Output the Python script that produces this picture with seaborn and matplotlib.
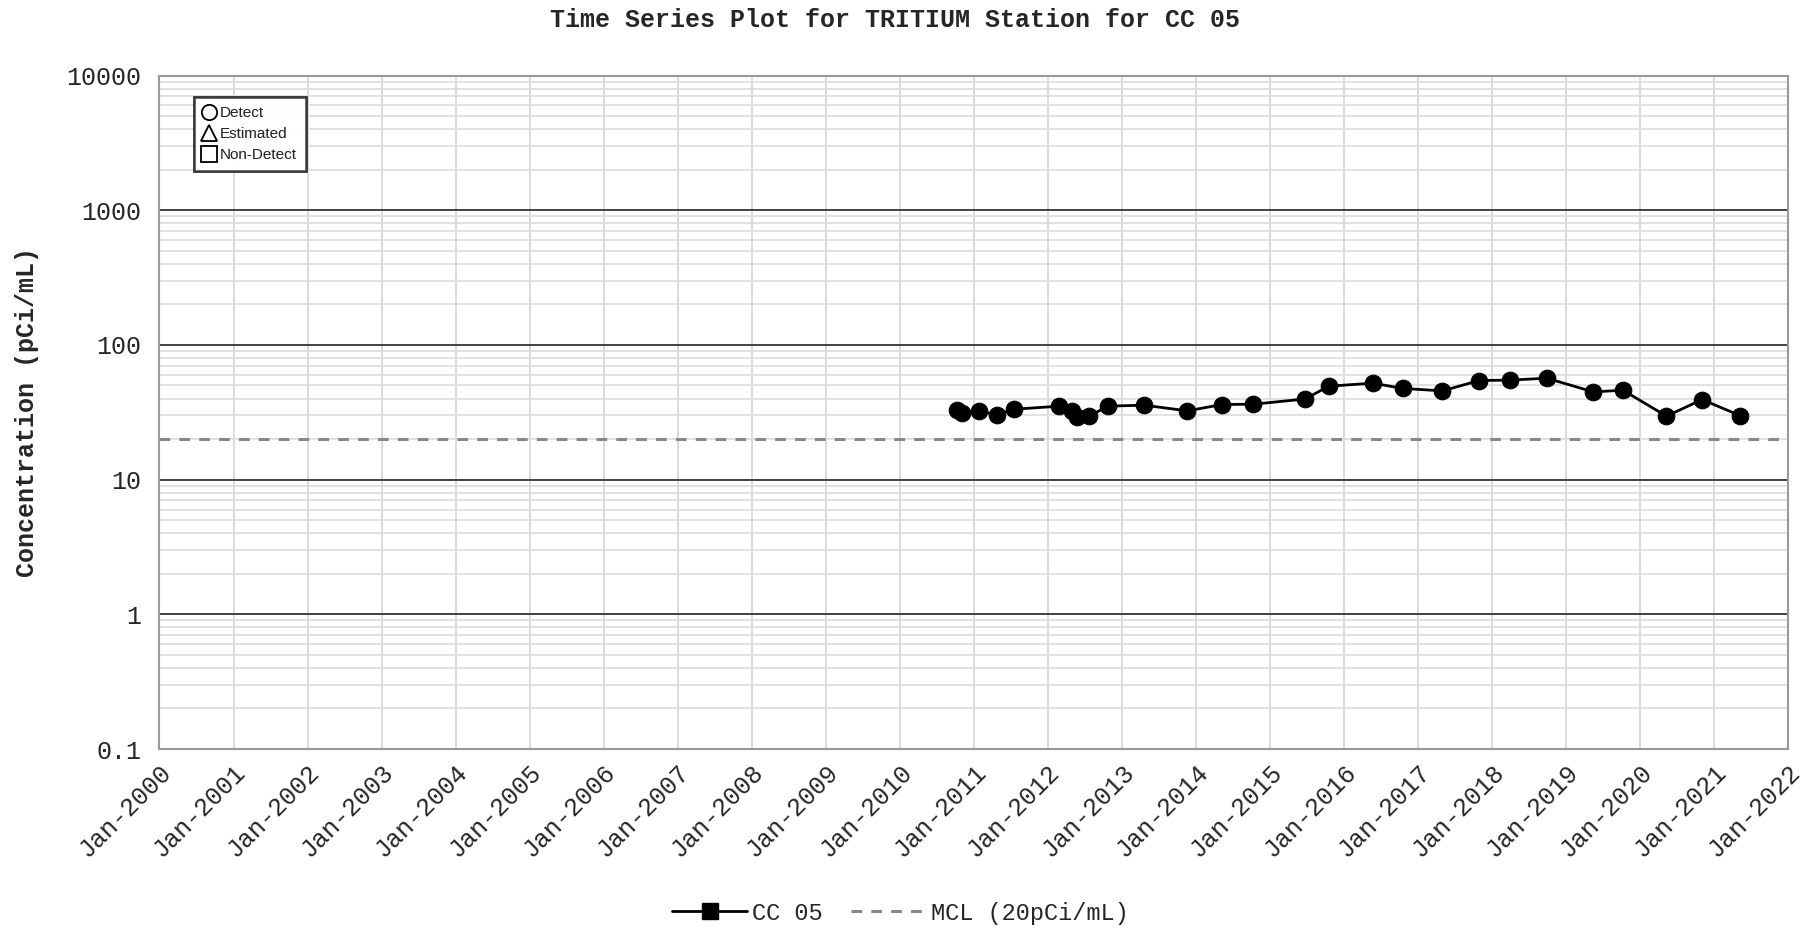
import matplotlib
matplotlib.use("Agg")
import matplotlib.pyplot as plt
import matplotlib.dates as mdates
from matplotlib.lines import Line2D
from matplotlib.ticker import LogLocator, FixedLocator, NullFormatter
import seaborn as sns
import pandas as pd

# sample dates and tritium results (pCi/mL)
dates = ["2010-10-10", "2010-11-04", "2011-01-27", "2011-04-27", "2011-07-18",
         "2012-02-27", "2012-04-28", "2012-05-24", "2012-07-25", "2012-10-22",
         "2013-04-20", "2013-11-20", "2014-05-10", "2014-10-12", "2015-06-25",
         "2015-10-18", "2016-05-25", "2016-10-18", "2017-05-01", "2017-10-30",
         "2018-03-30", "2018-09-29", "2019-05-16", "2019-10-09", "2020-05-11",
         "2020-11-03", "2021-05-08"]
values = [33.0, 31.3, 32.4, 30.2, 33.3,
          35.1, 32.4, 29.2, 29.6, 35.1,
          35.7, 32.4, 36.1, 36.3, 39.7,
          49.4, 52.0, 47.5, 45.6, 54.4,
          54.8, 56.6, 44.8, 46.1, 29.6,
          39.3, 29.9]
mcl = 20
station = "CC 05"
y_ticks = [0.1, 1, 10, 100, 1000, 10000]
y_tick_labels = ["0.1", "1", "10", "100", "1000", "10000"]

df = pd.DataFrame({"Date": pd.to_datetime(dates), "Value": values})

sns.set_style("white")
plt.rcParams["font.family"] = ["Liberation Mono", "DejaVu Sans"]

fig = plt.figure(figsize=(18.12, 9.3), dpi=100)
ax = fig.add_axes([0.088, 0.1946, 0.8988, 0.7242])

ax.set_yscale("log")
ax.set_ylim(0.1, 10000)
x0, x1 = pd.Timestamp("2000-01-01"), pd.Timestamp("2022-01-01")
ax.set_xlim(x0, x1)

# grid
ax.yaxis.set_major_locator(FixedLocator(y_ticks))
ax.yaxis.set_minor_locator(LogLocator(base=10, subs=range(2, 10)))
ax.yaxis.set_minor_formatter(NullFormatter())
ax.set_yticklabels(y_tick_labels)
ax.grid(True, which="minor", axis="y", color="#dcdcdc", lw=1.2)
ax.grid(True, which="major", axis="y", color="#333333", lw=1.3)
ax.xaxis.set_major_locator(mdates.YearLocator())
ax.xaxis.set_major_formatter(mdates.DateFormatter("%b-%Y"))
ax.grid(True, which="major", axis="x", color="#d4d4d4", lw=1.2)
ax.set_axisbelow(True)

# MCL line
ax.axhline(mcl, color="#888888", lw=2.2, ls=(0, (3.5, 3)), zorder=2)

sns.lineplot(data=df, x="Date", y="Value", ax=ax, color="black", lw=2,
             marker="o", markersize=12, markeredgecolor="black", zorder=3)

for s in ax.spines.values():
    s.set_color("#999999")
    s.set_linewidth(1.5)

ax.tick_params(axis="y", which="major", length=7, width=1.2, color="#888888",
               labelsize=18, direction="out", pad=6)
ax.tick_params(axis="y", which="minor", length=7, width=1.0, color="#aaaaaa",
               direction="in")
ax.tick_params(axis="x", which="major", length=7, width=1.2, color="#888888",
               labelsize=18, direction="out", pad=1)
for lbl in ax.get_xticklabels():
    lbl.set_rotation(45)
    lbl.set_ha("right")
    lbl.set_rotation_mode("anchor")

ax.set_xlabel("")
ax.set_ylabel("")
fig.text(0.015, 0.557, "Concentration (pCi/mL)", rotation=90, ha="center",
         va="center", fontsize=18, fontweight="bold")
fig.text(0.494, 0.978, "Time Series Plot for TRITIUM Station for " + station,
         ha="center", va="center", fontsize=18, fontweight="bold")

# qualifier key
key_handles = [
    Line2D([], [], ls="none", marker="o", markersize=11, mfc="white", mec="black", mew=1.3),
    Line2D([], [], ls="none", marker="^", markersize=11, mfc="white", mec="black", mew=1.3),
    Line2D([], [], ls="none", marker="s", markersize=11, mfc="white", mec="black", mew=1.3),
]
key = ax.legend(key_handles, ["Detect", "Estimated", "Non-Detect"],
                loc="upper left", bbox_to_anchor=(0.0212, 0.968),
                prop={"family": "Liberation Sans", "size": 11},
                frameon=True, fancybox=False, edgecolor="#222222",
                handletextpad=0.3, labelspacing=0.45, borderpad=0.6,
                handlelength=0.8, borderaxespad=0)
key.get_frame().set_linewidth(1.8)
ax.add_artist(key)

# series legend below the plot
series_handles = [
    Line2D([], [], color="black", lw=2, marker="s", markersize=12),
    Line2D([], [], color="#888888", lw=2.2, ls=(0, (3.5, 3))),
]
fig.legend(series_handles, [station, "MCL (20pCi/mL)"], loc="center",
           bbox_to_anchor=(0.497, 0.018), ncol=2, frameon=False,
           fontsize=17, handlelength=3.2, handletextpad=0.2, columnspacing=1.2)

fig.savefig("out.png", dpi=100)
